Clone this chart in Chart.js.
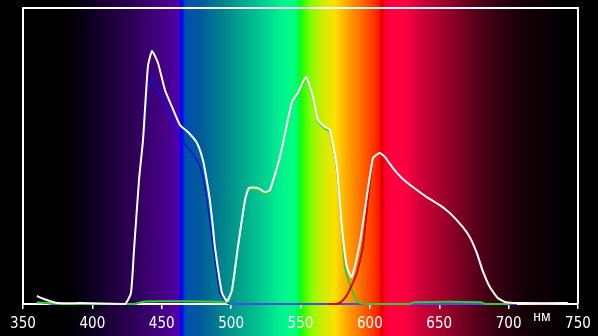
<!DOCTYPE html>
<html><head><meta charset="utf-8">
<script src="https://cdn.jsdelivr.net/npm/chart.js@4"></script>
<style>html,body{margin:0;padding:0;background:#000;}#wrap{width:598px;height:336px;}</style>
</head><body><div id="wrap"><canvas id="c" width="598" height="336"></canvas></div>
<script>
// ---- data (wavelength nm, relative intensity %) ----
const xTicks = [350, 400, 450, 500, 550, 600, 650, 700, 750];
const unitLabel = 'нм';

const whiteNm  = [360,365,375,391,405,423.5,427.8,430,433.6,436.5,440,443,447.3,452.3,457.4,463.1,468.9,475.4,479.7,482,484.7,486.9,488.3,493.4,497,500.6,504.9,510,512.8,519.3,524.4,528,535.2,543.8,548.1,553.9,559,562.5,567.6,571.2,576.2,579.8,583.4,587,592.8,602.2,607.2,610.8,616.6,623,631,641,650.4,657.7,667,672,677.1,681.4,686.5,692.2,697.3,706.6,742.7];
const whiteVal = [2.7,1.7,0.3,0.3,0.2,0,3.7,18.2,41.9,55.4,80.1,85.5,81.4,72.3,66.6,60.5,58.1,54.4,48.6,43,35,26,19.3,3.7,1.0,4.7,19.3,35.1,39.2,39.2,37.8,38.5,49.7,68.2,71.3,76.7,69.9,62.2,59.8,58.8,46.3,26,12.5,9.1,20.6,49.3,51,49.7,45.9,42.6,39.5,36.1,33.4,30.7,26,22.6,17.2,11.1,5.7,2,0.7,0.3,0.3];

const blueNm  = [360,365,372,423,427.8,430,433.6,436.5,440,443,447.3,453.7,459.5,464.5,470.3,475.4,479,482.6,486.9,491.9,496.3,499.1,706];
const blueVal = [0.8,0.4,0,0,3.5,17.5,41,54.5,72,76.7,72.3,66.6,58.8,55.4,52,48.6,44.3,35,20,3.7,0.7,0,0];

const greenNm  = [360,370,380,430,437,450,470,490,495,498,500.6,504.9,510,512.8,519.3,524.4,528,535.2,543.8,548.1,553.9,559,562.5,567.6,571.2,576.2,579.8,582,587,590.6,593,600,628,632,680,683,700];
const greenVal = [0.5,0.3,0,0,0.8,0.9,0.9,0.8,0.6,0.8,4.5,19,34.8,38.6,38.5,37.2,37.9,49.2,67.8,70.8,76.2,69.5,61.8,59.3,58.2,45.5,25,12.5,4.7,1.2,0.2,0,0,0.6,0.6,0,0];

const redNm  = [570,576,580,583.4,587,590.6,595,602.2,607.2,610.8,616.6,623,631,641,650.4,657.7,667,672,677.1,681.4,686.5,692.2,697.3,706.6,742.7];
const redVal = [0,0,1,3,6.4,10.5,19.3,49.3,51,49.7,45.9,42.6,39.5,36.1,33.4,30.7,26,22.6,17.2,11.1,5.7,2,0.7,0.3,0.3];

// spectrum background stops
const specNm = [350,378,390,405,427,441,456,462,464.5,467,477.5,499,521,535,546,549.6,551,557,564,575,582,593,603.6,607,608.7,611,618,625,636,658,679,694,708,730,744,750];
const specColor = ['#000000','#000000','#04000c','#14002c','#2a0050','#3a0070','#4a0090','#5000b0','#0000ff','#0050b0','#005a9a','#00908a','#00c890','#00f090','#00ff80','#00ff30','#20ff00','#80ff00','#c0f000','#ffe000','#ffb000','#ff7000','#ff3000','#ff1000','#d80000','#ff0030','#ff0040','#ff0040','#d00038','#900028','#500018','#300010','#180008','#080004','#000000','#000000'];

function pts(xs, ys) { return xs.map((x, i) => ({x: x, y: ys[i]})); }

const bgPlugin = {
  id: 'spectrumBg',
  beforeDraw(chart) {
    const ctx = chart.ctx, xs = chart.scales.x;
    ctx.save();
    ctx.fillStyle = '#000';
    ctx.fillRect(0, 0, chart.width, chart.height);
    const x0 = xs.getPixelForValue(350), x1 = xs.getPixelForValue(750);
    const g = ctx.createLinearGradient(x0, 0, x1, 0);
    specNm.forEach((nm, i) => g.addColorStop((nm - 350) / 400, specColor[i]));
    ctx.fillStyle = g;
    ctx.fillRect(x0, 0, x1 - x0, chart.height);
    ctx.restore();
  },
  beforeDatasetsDraw(chart) {
    const ctx = chart.ctx, a = chart.chartArea;
    ctx.save();
    ctx.strokeStyle = '#ffffff';
    ctx.lineWidth = 2;
    ctx.beginPath();
    ctx.moveTo(a.left, a.bottom);
    ctx.lineTo(a.left, a.top);
    ctx.lineTo(a.right, a.top);
    ctx.lineTo(a.right, a.bottom);
    ctx.stroke();
    ctx.fillStyle = '#ffffff';
    ctx.font = '14px "Liberation Sans", Arial, sans-serif';
    ctx.textAlign = 'center';
    ctx.textBaseline = 'alphabetic';
    ctx.fillText(unitLabel, chart.scales.x.getPixelForValue(724), 321);
    ctx.restore();
  }
};

const common = {pointRadius: 0, fill: false, tension: 0.15, clip: false};

new Chart(document.getElementById('c'), {
  type: 'line',
  data: {
    datasets: [
      Object.assign({label: 'W', data: pts(whiteNm, whiteVal), borderColor: '#ffffff', borderWidth: 2}, common),
      Object.assign({label: 'R', data: pts(redNm, redVal), borderColor: '#e00000', borderWidth: 2}, common),
      Object.assign({label: 'G', data: pts(greenNm, greenVal), borderColor: '#33cc33', borderWidth: 2}, common),
      Object.assign({label: 'B', data: pts(blueNm, blueVal), borderColor: '#1010e0', borderWidth: 1.5}, common)
    ]
  },
  options: {
    responsive: false,
    animation: false,
    devicePixelRatio: 1,
    layout: {padding: {left: 23, right: 20, top: 8, bottom: 0}},
    plugins: {legend: {display: false}, tooltip: {enabled: false}},
    scales: {
      x: {
        type: 'linear', min: 350, max: 750,
        afterBuildTicks: (s) => { s.ticks = xTicks.map(v => ({value: v})); },
        afterFit: (s) => { s.height = 32; },
        grid: {drawOnChartArea: false, drawTicks: true, tickLength: 5, color: '#ffffff', lineWidth: 1.5},
        border: {display: true, color: '#ffffff', width: 2},
        ticks: {color: '#ffffff', padding: 6, maxRotation: 0, autoSkip: false,
                font: {family: '"Liberation Sans Narrow", "DejaVu Sans Condensed", "Roboto Condensed", "Liberation Sans", Arial, sans-serif', size: 15}}
      },
      y: {display: false, min: 0, max: 100}
    }
  },
  plugins: [bgPlugin]
});
</script>
</body></html>
